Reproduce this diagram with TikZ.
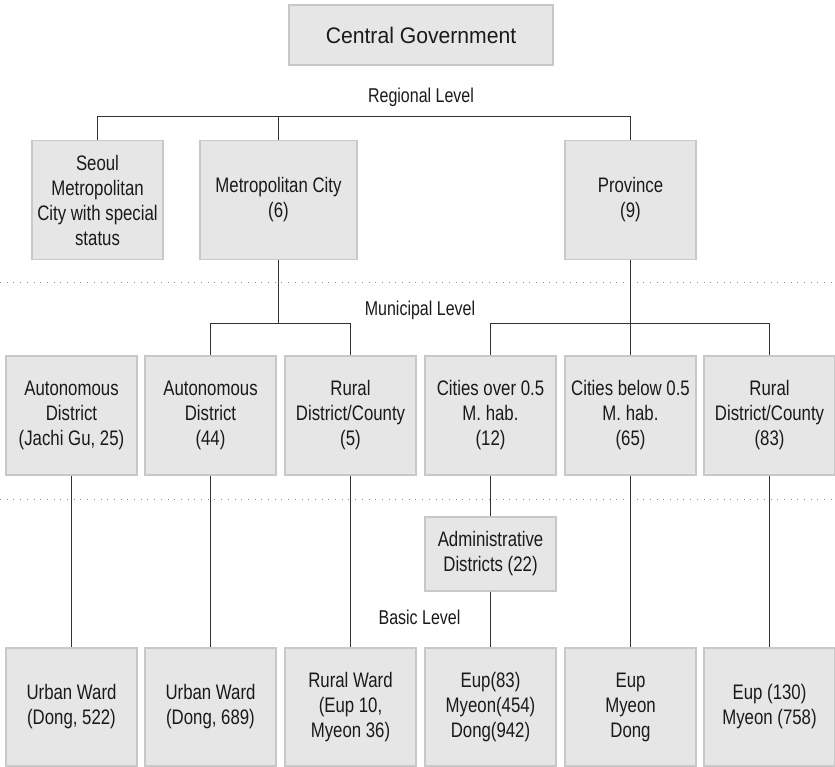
\documentclass[tikz,border=0pt]{standalone}
\usepackage{fontspec}
\setmainfont{Liberation Sans}[FakeStretch=0.80]
\newfontfamily\cgfont{Liberation Sans}[FakeStretch=0.94]
\definecolor{boxfill}{HTML}{E6E6E6}
\definecolor{boxline}{HTML}{C8C8C8}
\definecolor{txt}{HTML}{1A1A1A}
\definecolor{conncol}{HTML}{333333}
\definecolor{dotcol}{HTML}{8C8C8C}
\begin{document}
\begin{tikzpicture}[x=1pt,y=-1pt,
  box/.style={draw=boxline, line width=1.8pt, fill=boxfill, minimum width=131pt, minimum height=119pt,
    align=center, inner sep=0pt, text=txt, font=\fontsize{21}{25}\selectfont},
  lab/.style={text=txt, inner sep=0pt, font=\fontsize{20}{23}\selectfont},
  conn/.style={draw=conncol, line width=1pt},
  dotline/.style={draw=dotcol, line width=1pt, dash pattern=on 1pt off 5.7pt}]
\useasboundingbox (0,0) rectangle (835,767);

% dotted separators
\coordinate (d1l) at (0,283);
\coordinate (d1r) at (835,283);
\coordinate (d2l) at (0,499);
\coordinate (d2r) at (835,499);
\draw[dotline] (d1l) -- (d1r);
\draw[dotline] (d2l) -- (d2r);

% top
\node[box, minimum width=264pt, minimum height=60pt, font=\cgfont\fontsize{22.5}{26}\selectfont] (cg) at (421,35) {Central Government};
\node[lab] (reg) at (421,97) {Regional Level};

% regional level
\node[box] (seoul) at (97.5,200) {Seoul\\Metropolitan\\City with special\\status};
\node[box, minimum width=157pt] (metro) at (278.5,200) {Metropolitan City\\(6)};
\node[box] (prov) at (630.5,200) {Province\\(9)};

% municipal level
\node[lab] (mun) at (420,310) {Municipal Level};
\node[box] (ad1) at (71.5,415.5) {Autonomous\\District\\(Jachi Gu, 25)};
\node[box] (ad2) at (210.5,415.5) {Autonomous\\District\\(44)};
\node[box] (rd1) at (350.5,415.5) {Rural\\District/County\\(5)};
\node[box] (co) at (490.5,415.5) {Cities over 0.5\\M. hab.\\(12)};
\node[box] (cb) at (630.5,415.5) {Cities below 0.5\\M. hab.\\(65)};
\node[box] (rd2) at (769.5,415.5) {Rural\\District/County\\(83)};

% administrative districts
\node[box, minimum height=74pt] (adm) at (490.5,554) {Administrative\\Districts (22)};

% basic level
\node[lab] (bas) at (419.5,617) {Basic Level};
\node[box, minimum height=118pt] (uw1) at (71.5,707) {Urban Ward\\(Dong, 522)};
\node[box, minimum height=118pt] (uw2) at (210.5,707) {Urban Ward\\(Dong, 689)};
\node[box, minimum height=118pt] (rw) at (350.5,707) {Rural Ward\\(Eup 10,\\Myeon 36)};
\node[box, minimum height=118pt] (e1) at (490.5,707) {Eup(83)\\Myeon(454)\\Dong(942)};
\node[box, minimum height=118pt] (e2) at (630.5,707) {Eup\\Myeon\\Dong};
\node[box, minimum height=118pt] (e3) at (769.5,707) {Eup (130)\\Myeon (758)};

% connectors: regional
\coordinate (hr) at (0,117);
\draw[conn] (seoul.north) |- (hr -| prov.north) -- (prov.north);
\draw[conn] (metro.north) -- (metro.north |- hr);

% connectors: municipal
\coordinate (hm) at (0,323);
\draw[conn] (metro.south) -- (metro.south |- hm);
\draw[conn] (ad2.north) |- (hm -| rd1.north) -- (rd1.north);
\draw[conn] (prov.south) -- (cb.north);
\draw[conn] (co.north) |- (hm -| rd2.north) -- (rd2.north);

% connectors: basic
\draw[conn] (ad1.south) -- (uw1.north);
\draw[conn] (ad2.south) -- (uw2.north);
\draw[conn] (rd1.south) -- (rw.north);
\draw[conn] (co.south) -- (adm.north);
\draw[conn] (adm.south) -- (e1.north);
\draw[conn] (cb.south) -- (e2.north);
\draw[conn] (rd2.south) -- (e3.north);
\end{tikzpicture}
\end{document}
